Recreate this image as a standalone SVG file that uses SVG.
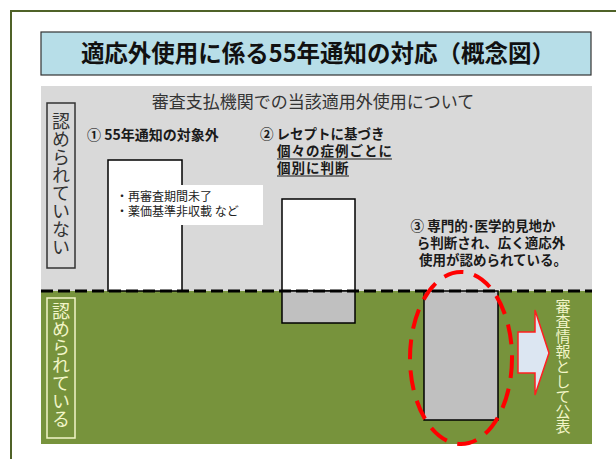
<svg xmlns="http://www.w3.org/2000/svg" width="616" height="459" viewBox="0 0 616 459">
  <style>
    text { font-family: "Noto Sans CJK JP", "Noto Sans", sans-serif; }
    .b { font-weight: bold; fill: #1a1a1a; }
    .box { stroke: #000; stroke-width: 1.5; }
    .vt { writing-mode: vertical-rl; }
    .cream { fill: #f2f5c8; }
  </style>
  <rect width="616" height="459" fill="#ffffff"/>
  <rect x="11" y="11" width="620" height="470" fill="none" stroke="#4f6228" stroke-width="2"/>

  <g id="title">
    <rect x="41" y="32" width="550" height="43" fill="#b7dee8" stroke="#333" stroke-width="1.2"/>
    <text x="318" y="62" text-anchor="middle" font-size="23.5" font-weight="bold" fill="#111">適応外使用に係る55年通知の対応（概念図）</text>
  </g>

  <g id="zone-not-approved">
    <rect x="41" y="86" width="551" height="205" fill="#d9d9d9"/>
    <text x="313" y="108" text-anchor="middle" font-size="17" fill="#333">審査支払機関での当該適用外使用について</text>
    <rect x="47" y="103" width="28" height="165" fill="none" stroke="#333" stroke-width="1.5"/>
    <text class="vt" x="61" y="112" font-size="18" fill="#333">認められていない</text>
  </g>

  <g id="zone-approved">
    <rect x="41" y="291" width="551" height="153" fill="#77933c"/>
    <rect x="47" y="298" width="28" height="140" fill="none" stroke="#f2f5c8" stroke-width="1.5"/>
    <text class="vt cream" x="61" y="302" font-size="18">認められている</text>
    <text class="vt cream" x="563" y="299" font-size="15">審査情報として公表</text>
  </g>

  <g id="case1">
    <text class="b" x="87" y="140" font-size="14">① 55年通知の対象外</text>
    <rect class="box" x="108" y="160" width="74" height="131" fill="#ffffff"/>
    <rect x="109" y="185" width="154" height="40" fill="#ffffff"/>
    <text x="116" y="201" font-size="12" fill="#222">・再審査期間未了</text>
    <text x="116" y="216" font-size="12" fill="#222">・薬価基準非収載  など</text>
  </g>

  <g id="case2">
    <text class="b" x="260" y="139" font-size="13.5">② レセプトに基づき</text>
    <text class="b" x="277" y="156" font-size="13.5" letter-spacing="1">個々の症例ごとに</text>
    <line x1="277" y1="159" x2="392" y2="159" stroke="#1a1a1a" stroke-width="1.2"/>
    <text class="b" x="277" y="173" font-size="13.5" letter-spacing="1">個別に判断</text>
    <line x1="277" y1="176" x2="349" y2="176" stroke="#1a1a1a" stroke-width="1.2"/>
    <rect class="box" x="282" y="199" width="73" height="92" fill="#ffffff"/>
    <rect class="box" x="282" y="291" width="73" height="32" fill="#c0c0c0"/>
  </g>

  <g id="case3">
    <text class="b" x="483" y="231" text-anchor="middle" font-size="13.5">③ 専門的･医学的見地か</text>
    <text class="b" x="491" y="248" text-anchor="middle" font-size="13.5">ら判断され、広く適応外</text>
    <text class="b" x="493" y="265" text-anchor="middle" font-size="13.5">使用が認められている。</text>
    <rect class="box" x="424" y="291" width="74" height="129" fill="#c0c0c0"/>
  </g>

  <g id="connectors">
    <line x1="41" y1="291" x2="592" y2="291" stroke="#000" stroke-width="3" stroke-dasharray="12 5"/>
    <ellipse cx="461" cy="358" rx="51" ry="86" fill="none" stroke="#ff0000" stroke-width="4" stroke-dasharray="20 11"/>
    <path d="M518,332 L535,332 L535,310 L549,353 L535,395 L535,373 L518,373 Z" fill="#dce6f2" stroke="#ff2020" stroke-width="1.5"/>
  </g>
</svg>
